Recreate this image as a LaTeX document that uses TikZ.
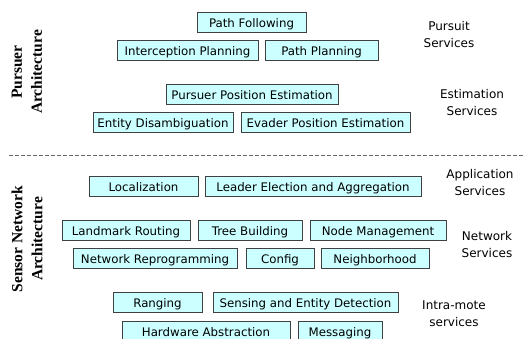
\documentclass[tikz,border=0pt]{standalone}
\usepackage{fontspec}
\setmainfont{DejaVu Sans}
\newfontfamily\archfont{Liberation Serif}
\definecolor{svcfill}{HTML}{CCFFFF}

\begin{document}
\begin{tikzpicture}[x=1pt, y=-1pt,
    svc/.style={draw=black!75, fill=svcfill, line width=0.8pt, minimum height=20pt,
                inner sep=0pt, text height=10pt, text depth=0pt, font=\fontsize{11.8}{13}\selectfont},
    layer/.style={align=center, font=\fontsize{12}{17}\selectfont},
    arch/.style={rotate=90, align=center, font=\archfont\bfseries\fontsize{15.5}{20}\selectfont}]
    \useasboundingbox (0, 0) rectangle (524, 338);
    \clip (0, 0) rectangle (524, 338);

    % pursuer side
    \node[svc, minimum width=109pt] at (251.5, 22)  (pathfol)  {Path Following};
    \node[svc, minimum width=141pt] at (187.5, 50)  (intercep) {Interception Planning};
    \node[svc, minimum width=113pt] at (321.5, 50)  (pathplan) {Path Planning};
    \node[svc, minimum width=172pt] at (252, 94)    (purspos)  {Pursuer Position Estimation};
    \node[svc, minimum width=140pt] at (163, 122)   (disamb)   {Entity Disambiguation};
    \node[svc, minimum width=169pt] at (325.5, 122) (evadpos)  {Evader Position Estimation};

    \node[layer] at (449, 35)  (pursuit)   {Pursuit\\Services};
    \node[layer] at (472, 103) (estim)     {Estimation\\Services};
    \node[arch]  at (27, 72)   (pursarch)  {Pursuer\\Architecture};

    % separator
    \coordinate (sepL) at (9, 155.5);
    \coordinate (sepR) at (524, 155.5);
    \draw[black!60, line width=1pt, dash pattern=on 4pt off 2pt] (sepL) -- (sepR);

    % sensor network side
    \node[svc, minimum width=109pt] at (143.5, 186) (local)    {Localization};
    \node[svc, minimum width=216pt] at (313, 186)   (leader)   {Leader Election and Aggregation};
    \node[svc, minimum width=128pt] at (126, 230)   (landmark) {Landmark Routing};
    \node[svc, minimum width=104pt] at (250, 230)   (tree)     {Tree Building};
    \node[svc, minimum width=136pt] at (378, 230)   (nodemgmt) {Node Management};
    \node[svc, minimum width=164pt] at (155, 258)   (reprog)   {Network Reprogramming};
    \node[svc, minimum width=68pt]  at (280, 258)   (config)   {Config};
    \node[svc, minimum width=108pt] at (375, 258)   (neigh)    {Neighborhood};
    \node[svc, minimum width=89pt]  at (157.5, 302) (ranging)  {Ranging};
    \node[svc, minimum width=185pt] at (305.5, 302) (sensing)  {Sensing and Entity Detection};
    \node[svc, minimum width=168pt] at (206, 331)   (hwabs)    {Hardware Abstraction};
    \node[svc, minimum width=84pt]  at (340, 331)   (msg)      {Messaging};

    \node[layer] at (480, 183) (applic)  {Application\\Services};
    \node[layer] at (487, 245) (network) {Network\\Services};
    \node[layer] at (454, 314) (intra)   {Intra-mote\\services};
    \node[arch]  at (27, 239)  (sensarch) {Sensor Network\\Architecture};
\end{tikzpicture}
\end{document}
